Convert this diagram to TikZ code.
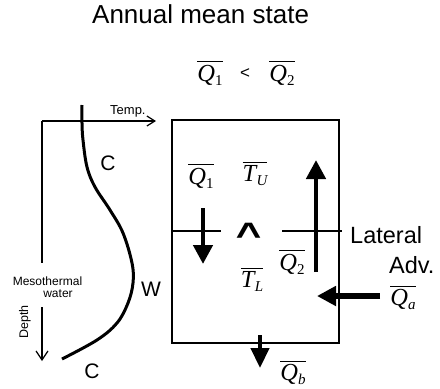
\documentclass[tikz,border=0pt]{standalone}
\usepackage{fontspec}
\setmainfont{Liberation Sans}
\newfontfamily\tms{Liberation Serif}
\usetikzlibrary{arrows.meta}
\newcommand\barlab[2]{\vbox{\hrule height 1.4pt\kern2.5pt\hbox{\tms\itshape #1\kern0.3pt\raisebox{-4pt}{\fontsize{15}{15}\selectfont #2}}}}
\tikzset{
  fat/.style={line width=4.5pt,-{Triangle[length=19pt,width=19pt]}},
  axisline/.style={line width=1.2pt},
  boxline/.style={line width=1.3pt},
  mlab/.style={inner sep=0pt,font=\fontsize{24.5}{25}\selectfont},
  slab/.style={inner sep=0pt,font=\fontsize{23.5}{24}\selectfont},
}
\begin{document}
\begin{tikzpicture}[x=1pt,y=-1pt]
\useasboundingbox (0,0) rectangle (440,389);
% title
\node[anchor=base west,inner sep=0pt,font=\fontsize{26}{26}\selectfont] (title) at (92,23) {Annual mean state};
\node[mlab] (q1top) at (210,73) {\barlab{Q}{\upshape 1}};
\node[inner sep=0pt,font=\fontsize{17}{17}\selectfont] (lt) at (245,74) {<};
\node[mlab] (q2top) at (282,73) {\barlab{Q}{\upshape 2}};
% profile axes
\coordinate (org) at (42,121);
\coordinate (tend) at (156,121);
\coordinate (dbot) at (42,263);
\draw[axisline,-{Straight Barb[length=8pt,width=10pt]}] (org) -- (tend);
\draw[axisline] (org) -- (dbot);
\node[anchor=base west,inner sep=0pt,font=\fontsize{13}{13}\selectfont] (temp) at (110,114) {Temp.};
\coordinate (ds) at (42,307);
\coordinate (de) at (42,361);
\draw[axisline,-{Straight Barb[length=9pt,width=12pt]}] (ds) -- (de);
\node[rotate=90,inner sep=0pt,font=\fontsize{12.5}{12.5}\selectfont] (depth) at (25,322) {Depth};
\node[inner sep=0pt,font=\fontsize{12}{12}\selectfont] (meso) at (47.5,281) {Mesothermal};
\node[inner sep=0pt,font=\fontsize{12}{12}\selectfont] (water) at (58,294) {water};
% profile curve
\draw[line width=3pt] plot[smooth,tension=0.6] coordinates {(82,105) (82,123) (83,140) (87,167) (95,187) (110,210) (123,233) (132,263) (133,283) (128,303) (117,323) (97,340) (62,359)};
\node[inner sep=0pt,font=\fontsize{21}{21}\selectfont] (c1) at (108,163) {C};
\node[inner sep=0pt,font=\fontsize{21}{21}\selectfont] (w) at (151,289) {W};
\node[inner sep=0pt,font=\fontsize{21}{21}\selectfont] (c2) at (92,371) {C};
% box
\draw[boxline] (172,120) rectangle (339,343);
\coordinate (m1) at (172,231);
\coordinate (m2) at (221,231);
\coordinate (m3) at (282,231);
\coordinate (m4) at (342,231);
\draw[boxline] (m1) -- (m2);
\draw[boxline] (m3) -- (m4);
% labels in box
\node[mlab] (q1) at (201,176) {\barlab{Q}{\upshape 1}};
\node[mlab] (tu) at (255,174) {\barlab{T}{U}};
\node[inner sep=0pt] (gt) at (250,231) {\rotatebox{90}{\scalebox{0.75}[1.1]{\fontsize{40}{40}\selectfont\bfseries >}}};
\node[mlab] (tl) at (252,280) {\barlab{T}{L}};
\node[mlab] (q2) at (292,262) {\barlab{Q}{\upshape 2}};
\node[mlab] (qa) at (403,298) {\barlab{Q}{a}};
\node[mlab] (qb) at (293,373) {\barlab{Q}{b}};
\node[slab,anchor=base west] (lat) at (350,243) {Lateral};
\node[slab,anchor=base west] (adv) at (389,273) {Adv.};
% arrows
\coordinate (a1s) at (203,208); \coordinate (a1e) at (203,264);
\coordinate (a2s) at (316,272); \coordinate (a2e) at (316,160);
\coordinate (a3s) at (380,296); \coordinate (a3e) at (317,296);
\coordinate (a4s) at (260,335); \coordinate (a4e) at (260,368);
\draw[fat] (a1s) -- (a1e);
\draw[fat] (a2s) -- (a2e);
\draw[fat,line width=5.5pt] (a3s) -- (a3e);
\draw[fat,-{Triangle[length=20pt,width=18pt]}] (a4s) -- (a4e);
\end{tikzpicture}
\end{document}
